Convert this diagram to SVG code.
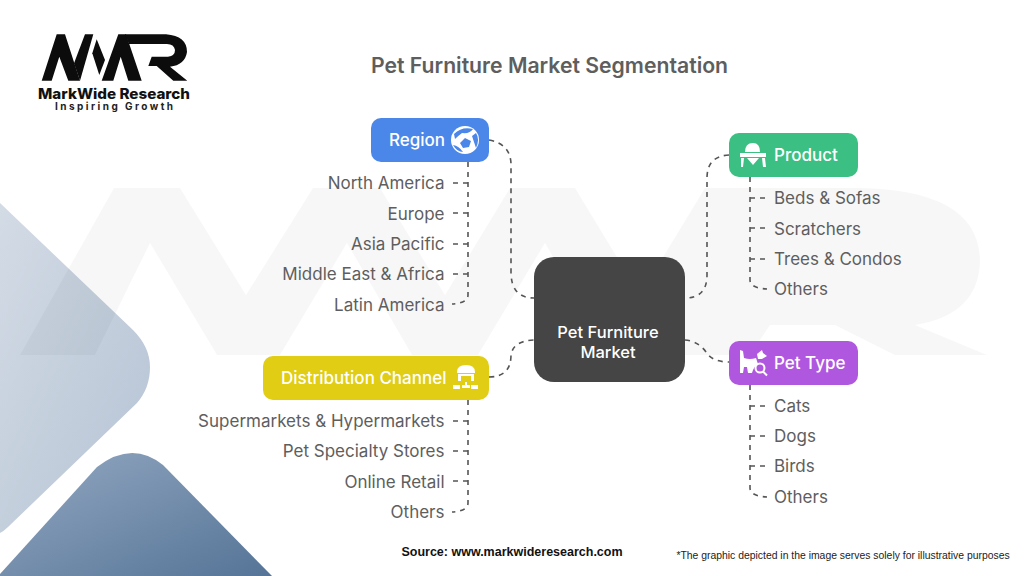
<svg xmlns="http://www.w3.org/2000/svg" width="1024" height="576" viewBox="0 0 1024 576">
<defs>
<linearGradient id="gl" x1="0" y1="0" x2="1" y2="1"><stop offset="0" stop-color="#d3dbe5"/><stop offset="1" stop-color="#b5c3d4"/></linearGradient>
<linearGradient id="gd" x1="0" y1="0" x2="1" y2="1"><stop offset="0" stop-color="#93a8c1"/><stop offset="1" stop-color="#557497"/></linearGradient>
</defs>
<style>
text{font-family:Inter,"Liberation Sans",sans-serif}
.lbl{font-size:17px;fill:#5e5e5e}
.r{text-anchor:end}
.hd{font-size:17px;font-weight:500;fill:#fff}
.c{fill:none;stroke:#555;stroke-width:1.6;stroke-dasharray:5 5}
.ic{fill:#fff}
.wm{fill:#000;opacity:.03}
</style>
<rect width="1024" height="576" fill="#fff"/>
<g id="background">
<path d="M0 203L133 330Q150 347 150 367Q150 388 137 403L8 527Q4 531 0 533Z" fill="url(#gl)"/>
<path d="M0 574L97 467Q132 440 163 465L272 576H0Z" fill="url(#gd)"/>
</g>
<g id="watermark">
<path class="wm" d="M20 355L114 188H180L246 295L313 188H380L445 295L510 188H575L640 295L705 188H860Q980 190 980 262Q978 315 915 325L987 355H895L835 325H770L750 355H610L545 243L478 355H412L347 243L280 355H217L150 243L95 355Z"/>
</g>
<g id="logo" fill="#0c0c0c">
<path d="M41.7 80.7L56.7 34.3H65L80 80.7H68.3L59.3 56.7L51.7 80.7Z"/>
<path d="M80 80.7L93.3 34.3H85L74 63.3Z"/>
<path d="M96.7 39.3L105 60L99.3 75L92.3 53.3Z"/>
<path d="M101.7 80.7L118.3 34.3H126L141.7 80.7H128.3L120.7 56.7L113.3 80.7Z"/>
<path d="M125 34.3H166Q187 36 187 52Q185 65 170 66.7L187.3 80.7H173.3L156.7 66H148.3L151.7 56.7H168Q175 56 175 50Q174 44 167 44H129Z"/>
<text x="114" y="98.5" text-anchor="middle" font-size="14.5" font-weight="800" fill="#111" textLength="152" lengthAdjust="spacingAndGlyphs">MarkWide Research</text>
<text x="114" y="109.5" text-anchor="middle" font-size="10" font-weight="700" fill="#222" textLength="118" lengthAdjust="spacing">Inspiring Growth</text>
</g>
<text id="title" x="549.5" y="72.5" text-anchor="middle" font-size="21.2" font-weight="600" fill="#5e5e5e">Pet Furniture Market Segmentation</text>
<g id="connectors">
<path class="c" d="M489 140Q511 144 511 165V272Q511 298 534 298"/>
<path class="c" d="M489 377Q511 377 511 355Q513 341 534 340"/>
<path class="c" d="M729 155Q707 156 707 178V275Q707 298 685 298"/>
<path class="c" d="M685 340Q698 341 706 352Q712 362 729 362"/>
<path class="c" d="M468 162V295Q468 303 452 304"/>
<path class="c" d="M468 183H452M468 213H452M468 244H452M468 274H452"/>
<path class="c" d="M468 400V503Q468 511 452 512"/>
<path class="c" d="M468 421H452M468 451H452M468 481H452"/>
<path class="c" d="M750 177V280Q750 288 767 289"/>
<path class="c" d="M750 198H767M750 228H767M750 259H767"/>
<path class="c" d="M750 385V488Q750 496 767 497"/>
<path class="c" d="M750 406H767M750 436H767M750 466H767"/>
</g>
<g id="center"><rect x="534" y="257" width="151" height="125" rx="20" fill="#454545"/>
<text x="608" y="338" text-anchor="middle" font-size="16.5" font-weight="500" fill="#fff">Pet Furniture</text>
<text x="608" y="358" text-anchor="middle" font-size="16.5" font-weight="500" fill="#fff">Market</text></g>
<g id="region"><rect x="371" y="118" width="118" height="44" rx="10" fill="#4b87e8"/>
<text class="hd" x="389" y="146">Region</text>
<circle class="ic" cx="465" cy="140" r="14"/>
<path fill="#4b87e8" d="M454 134Q462 126 473 129Q470 134 462 133Q458 136 455 139ZM460 143L465 138L471 141L469 147L463 148ZM453 145Q459 146 463 152Q457 152 453 145ZM476 133Q480 139 476 148L472 136Z"/></g>
<g id="product"><rect x="729" y="133" width="129" height="44" rx="10" fill="#3cbf82"/>
<text class="hd" x="774" y="161">Product</text>
<path class="ic" d="M745 152Q745 143 753 143Q760 143 760 152ZM740 153H766V157H740ZM741 158H744L743 167H741ZM762 158H765L766 167H763ZM747 158H759L753 165Z"/></g>
<g id="pet-type"><rect x="729" y="341" width="129" height="44" rx="10" fill="#b057df"/>
<text class="hd" x="774" y="369">Pet Type</text>
<path class="ic" d="M740 350L743 351L744 358Q750 360 756 358L758 364Q754 366 752 373H748L747 367L744 367L743 373H740ZM757 354L762 350L763 353L767 356L762 359H758Z"/>
<circle cx="760" cy="368" r="4.5" fill="none" stroke="#fff" stroke-width="2"/>
<path d="M763 371.5L767 375.5" stroke="#fff" stroke-width="2"/></g>
<g id="distribution"><rect x="263" y="356" width="226" height="44" rx="10" fill="#e0cd14"/>
<text class="hd" x="281" y="384">Distribution Channel</text>
<path class="ic" d="M457 372Q457 365 466 365Q475 365 475 372V373H457ZM458 374H474V381H471V376H461V381H458ZM453 385H460V389H453ZM471 385H478V389H471ZM465 382H467V385H470V388H462V385H465Z"/></g>
<g id="labels">
<text class="lbl r" x="444.5" y="189">North America</text>
<text class="lbl r" x="444.5" y="219.5">Europe</text>
<text class="lbl r" x="444.5" y="250">Asia Pacific</text>
<text class="lbl r" x="444.5" y="280">Middle East &amp; Africa</text>
<text class="lbl r" x="444.5" y="310.5">Latin America</text>
<text class="lbl r" x="444.5" y="427">Supermarkets &amp; Hypermarkets</text>
<text class="lbl r" x="444.5" y="457">Pet Specialty Stores</text>
<text class="lbl r" x="444.5" y="487.5">Online Retail</text>
<text class="lbl r" x="444.5" y="517.5">Others</text>
<text class="lbl" x="774" y="204">Beds &amp; Sofas</text>
<text class="lbl" x="774" y="234.5">Scratchers</text>
<text class="lbl" x="774" y="265">Trees &amp; Condos</text>
<text class="lbl" x="774" y="295">Others</text>
<text class="lbl" x="774" y="412">Cats</text>
<text class="lbl" x="774" y="442">Dogs</text>
<text class="lbl" x="774" y="472">Birds</text>
<text class="lbl" x="774" y="502.5">Others</text>
</g>
<text id="source" x="512" y="556" text-anchor="middle" style="font-family:'Liberation Sans',sans-serif" font-size="12.5" font-weight="700" fill="#111">Source: www.markwideresearch.com</text>
<text id="note" x="843" y="559" text-anchor="middle" style="font-family:'Liberation Sans',sans-serif" font-size="10.4" fill="#222">*The graphic depicted in the image serves solely for illustrative purposes</text>
</svg>
